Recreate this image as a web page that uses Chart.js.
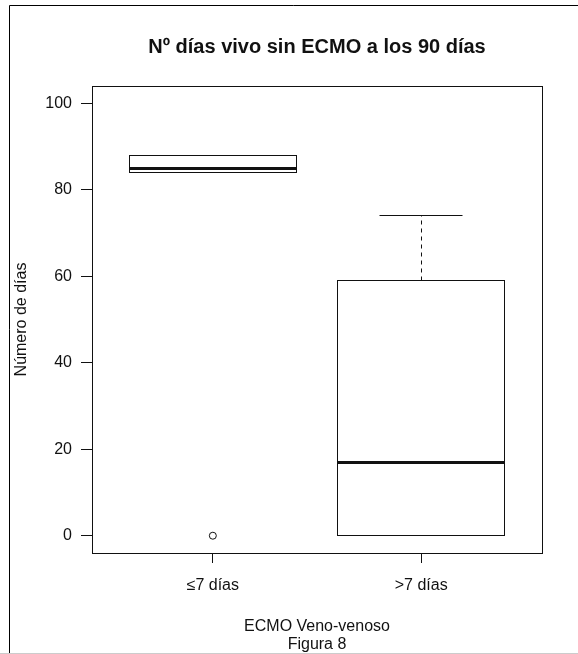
<!DOCTYPE html>
<html>
<head>
<meta charset="utf-8">
<script src="https://cdn.jsdelivr.net/npm/chart.js@4.4.1/dist/chart.umd.min.js"></script>
<style>
  html, body { margin: 0; padding: 0; background: #fff; }
  #wrap { width: 578px; height: 654px; position: relative; }
</style>
</head>
<body>
<div id="wrap"><canvas id="chart" width="578" height="654"></canvas></div>
<script>
// boxplot summary per group
const categories = ['≤7 días', '>7 días'];
const whiskerLow = [84, 0];
const quartile1 = [84, 0];
const medians = [85, 17];
const quartile3 = [88, 59];
const whiskerHigh = [88, 74];
const outliers = [[0], []];
const yTickValues = [0, 20, 40, 60, 80, 100];

const chartTitle = 'Nº días vivo sin ECMO a los 90 días';
const yTitle = 'Número de días';
const xTitle = ['ECMO Veno-venoso', 'Figura 8'];

const FONT = '"Liberation Sans", Arial, Helvetica, sans-serif';
const INK = '#111';

const outlierPoints = [];
outliers.forEach((vals, i) => vals.forEach(v => outlierPoints.push({ x: i + 1, y: v })));

const crisp = v => Math.round(v - 0.5) + 0.5;

const boxPlugin = {
  id: 'boxes',
  beforeDraw(chart) {
    const ctx = chart.ctx;
    ctx.save();
    ctx.fillStyle = '#fff';
    ctx.fillRect(0, 0, chart.width, chart.height);
    // outer figure border
    ctx.strokeStyle = '#000';
    ctx.lineWidth = 1;
    ctx.beginPath();
    ctx.moveTo(9.5, chart.height);
    ctx.lineTo(9.5, 5.5);
    ctx.lineTo(chart.width, 5.5);
    ctx.stroke();
    ctx.strokeStyle = '#ccc';
    ctx.beginPath();
    ctx.moveTo(0, chart.height - 0.5);
    ctx.lineTo(chart.width, chart.height - 0.5);
    ctx.stroke();
    ctx.restore();
  },
  beforeDatasetsDraw(chart) {
    const { ctx, chartArea, scales: { x, y } } = chart;
    ctx.save();
    ctx.strokeStyle = INK;
    categories.forEach((cat, i) => {
      const pos = i + 1;
      const xl = crisp(x.getPixelForValue(pos - 0.4));
      const xr = crisp(x.getPixelForValue(pos + 0.4));
      const xc = crisp(x.getPixelForValue(pos));
      const cl = crisp(x.getPixelForValue(pos - 0.2));
      const cr = crisp(x.getPixelForValue(pos + 0.2));
      const yLo = crisp(y.getPixelForValue(whiskerLow[i]));
      const yQ1 = crisp(y.getPixelForValue(quartile1[i]));
      const yMed = Math.round(y.getPixelForValue(medians[i]));
      const yQ3 = crisp(y.getPixelForValue(quartile3[i]));
      const yHi = crisp(y.getPixelForValue(whiskerHigh[i]));

      // whiskers
      ctx.lineWidth = 1;
      ctx.setLineDash([4, 4]);
      ctx.beginPath();
      if (yHi < yQ3) { ctx.moveTo(xc, yQ3); ctx.lineTo(xc, yHi); }
      if (yLo > yQ1) { ctx.moveTo(xc, yQ1); ctx.lineTo(xc, yLo); }
      ctx.stroke();
      ctx.setLineDash([]);
      ctx.beginPath();
      ctx.moveTo(cl, yHi); ctx.lineTo(cr, yHi);
      ctx.moveTo(cl, yLo); ctx.lineTo(cr, yLo);
      ctx.stroke();

      // box
      ctx.fillStyle = '#fff';
      ctx.fillRect(xl, yQ3, xr - xl, yQ1 - yQ3);
      ctx.strokeRect(xl, yQ3, xr - xl, yQ1 - yQ3);

      // median
      ctx.lineWidth = 3;
      ctx.beginPath();
      ctx.moveTo(xl, yMed + 0.5);
      ctx.lineTo(xr, yMed + 0.5);
      ctx.stroke();
    });

    // plot frame
    ctx.lineWidth = 1;
    ctx.strokeStyle = INK;
    ctx.strokeRect(crisp(chartArea.left), crisp(chartArea.top),
      Math.round(chartArea.right - chartArea.left), Math.round(chartArea.bottom - chartArea.top));

    // main title centred over the plot region
    ctx.fillStyle = INK;
    ctx.font = 'bold 20px ' + FONT;
    ctx.textAlign = 'center';
    ctx.textBaseline = 'middle';
    ctx.fillText(chartTitle, (chartArea.left + chartArea.right) / 2, 47);
    ctx.restore();
  }
};

new Chart(document.getElementById('chart'), {
  type: 'scatter',
  data: {
    datasets: [{
      label: 'outliers',
      data: outlierPoints,
      pointRadius: 3.5,
      pointHoverRadius: 3.5,
      pointBackgroundColor: '#fff',
      pointBorderColor: INK,
      pointBorderWidth: 1
    }]
  },
  options: {
    responsive: false,
    animation: false,
    events: [],
    layout: { padding: { top: 86, right: 36, left: 0, bottom: 0 } },
    plugins: {
      legend: { display: false },
      tooltip: { enabled: false },
      title: { display: false }
    },
    scales: {
      x: {
        type: 'linear',
        min: 0.42,
        max: 2.58,
        afterBuildTicks: scale => { scale.ticks = categories.map((c, i) => ({ value: i + 1 })); },
        afterFit: scale => { scale.height = 101; },
        ticks: {
          callback: v => categories[v - 1],
          color: INK,
          font: { family: FONT, size: 16 },
          padding: 13,
          maxRotation: 0,
          autoSkip: false
        },
        grid: { drawOnChartArea: false, drawTicks: true, tickLength: 10, color: INK, tickColor: INK },
        border: { display: true, color: INK },
        title: {
          display: true,
          text: xTitle,
          color: INK,
          font: { family: FONT, size: 16, lineHeight: 1.125 },
          padding: { top: 0, bottom: 0 }
        }
      },
      y: {
        type: 'linear',
        min: -4,
        max: 104,
        afterBuildTicks: scale => { scale.ticks = yTickValues.map(v => ({ value: v })); },
        afterFit: scale => { scale.width = 92; },
        ticks: {
          color: INK,
          font: { family: FONT, size: 16 },
          padding: 9
        },
        grid: { drawOnChartArea: false, drawTicks: true, tickLength: 11, color: INK, tickColor: INK },
        border: { display: true, color: INK },
        title: {
          display: true,
          text: yTitle,
          color: INK,
          font: { family: FONT, size: 16 },
          padding: { top: 12, bottom: 0 }
        }
      }
    }
  },
  plugins: [boxPlugin]
});
</script>
</body>
</html>
